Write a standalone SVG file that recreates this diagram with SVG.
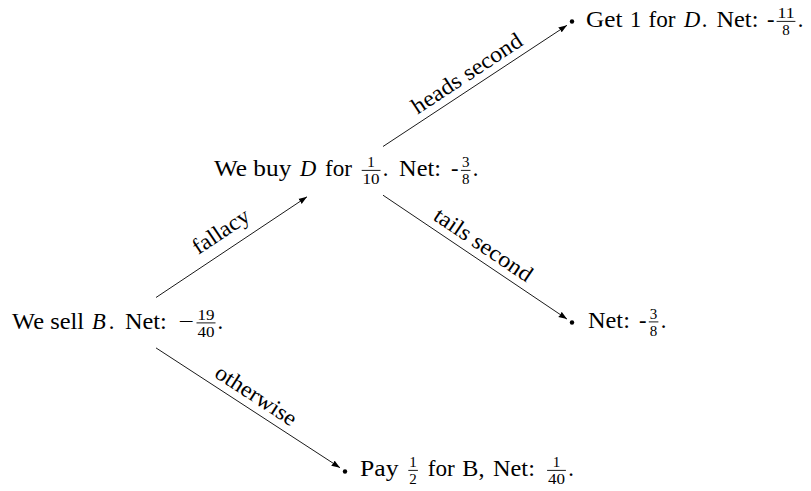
<svg xmlns="http://www.w3.org/2000/svg" width="811" height="491" viewBox="0 0 811 491" font-family="Liberation Serif, Times New Roman, serif">
<style>
  text { font-family: "Liberation Serif", "Times New Roman", serif; fill: #000; }
  .t { font-size: 22.5px; }
  .i { font-style: italic; }
  .f { font-size: 15px; text-anchor: middle; }
  .bar { stroke: #000; stroke-width: 0.9; }
  .edge { stroke: #000; stroke-width: 0.9; fill: none; marker-end: url(#arr); }
  .lbl { font-size: 22.5px; text-anchor: middle; }
  .dot { fill: #000; }
</style>
<defs>
  <marker id="arr" markerUnits="userSpaceOnUse" markerWidth="10" markerHeight="8" refX="8.5" refY="4" orient="auto" viewBox="0 0 10 8">
    <path d="M8.5,4 L0,0.9 Q1.2,4 0,7.1 Z" fill="#000"/>
  </marker>
</defs>

<g id="connectors">
  <line class="edge" x1="156" y1="297.5" x2="307" y2="196.8"/>
  <line class="edge" x1="383" y1="146.5" x2="567" y2="25.3"/>
  <line class="edge" x1="383" y1="195.2" x2="567" y2="319.1"/>
  <line class="edge" x1="156" y1="347.9" x2="340" y2="467.7"/>
  <text class="lbl" transform="translate(224.9,237.3) rotate(-33.7)" textLength="63.8" lengthAdjust="spacingAndGlyphs">fallacy</text>
  <text class="lbl" transform="translate(470.9,79.6) rotate(-33.4)" textLength="127.7" lengthAdjust="spacingAndGlyphs">heads second</text>
  <text class="lbl" transform="translate(479.2,250.9) rotate(34)" textLength="114" lengthAdjust="spacingAndGlyphs">tails second</text>
  <text class="lbl" transform="translate(252.1,401.5) rotate(33.1)" textLength="92.7" lengthAdjust="spacingAndGlyphs">otherwise</text>
</g>

<g id="root">
  <text class="t" x="12.1" y="328.5" textLength="72" lengthAdjust="spacingAndGlyphs">We sell</text>
  <text class="t i" x="92" y="328.5">B</text>
  <text class="t" x="108.7" y="328.5">.</text>
  <text class="t" x="124.9" y="328.5" textLength="41.9" lengthAdjust="spacingAndGlyphs">Net:</text>
  <text class="t" x="178.5" y="328.5" textLength="15.5" lengthAdjust="spacingAndGlyphs">−</text>
  <text class="f" x="206" y="319.5" textLength="17" lengthAdjust="spacingAndGlyphs">19</text>
  <line class="bar" x1="196.5" y1="322.9" x2="215.5" y2="322.9"/>
  <text class="f" x="206" y="336.5" textLength="17" lengthAdjust="spacingAndGlyphs">40</text>
  <text class="t" x="217.6" y="328.5">.</text>
</g>

<g id="buyD">
  <text class="t" x="213.9" y="176" textLength="77.5" lengthAdjust="spacingAndGlyphs">We buy</text>
  <text class="t i" x="300" y="176">D</text>
  <text class="t" x="325" y="176" textLength="27" lengthAdjust="spacingAndGlyphs">for</text>
  <text class="f" x="371.1" y="167">1</text>
  <line class="bar" x1="361.7" y1="170.4" x2="380.5" y2="170.4"/>
  <text class="f" x="371.1" y="184" textLength="17" lengthAdjust="spacingAndGlyphs">10</text>
  <text class="t" x="382.8" y="176">.</text>
  <text class="t" x="399.1" y="176" textLength="41.9" lengthAdjust="spacingAndGlyphs">Net:</text>
  <text class="t" x="451" y="176">-</text>
  <text class="f" x="465.7" y="167">3</text>
  <line class="bar" x1="460.9" y1="170.4" x2="470.5" y2="170.4"/>
  <text class="f" x="465.7" y="184">8</text>
  <text class="t" x="472.8" y="176">.</text>
</g>

<g id="heads">
  <circle class="dot" cx="572" cy="21.5" r="2.2"/>
  <text class="t" x="586" y="27" textLength="36.4" lengthAdjust="spacingAndGlyphs">Get</text>
  <text class="t" x="629.9" y="27">1</text>
  <text class="t" x="648.6" y="27" textLength="27" lengthAdjust="spacingAndGlyphs">for</text>
  <text class="t i" x="684" y="27">D</text>
  <text class="t" x="701.7" y="27">.</text>
  <text class="t" x="716.5" y="27" textLength="41.9" lengthAdjust="spacingAndGlyphs">Net:</text>
  <text class="t" x="766.9" y="27">-</text>
  <text class="f" x="786" y="18" textLength="17" lengthAdjust="spacingAndGlyphs">11</text>
  <line class="bar" x1="776.6" y1="21.4" x2="795.4" y2="21.4"/>
  <text class="f" x="786" y="35">8</text>
  <text class="t" x="797.7" y="27">.</text>
</g>

<g id="tails">
  <circle class="dot" cx="572" cy="322.5" r="2.2"/>
  <text class="t" x="588" y="327.5" textLength="41.9" lengthAdjust="spacingAndGlyphs">Net:</text>
  <text class="t" x="638.9" y="327.5">-</text>
  <text class="f" x="653.6" y="318.5">3</text>
  <line class="bar" x1="648.8" y1="321.9" x2="658.4" y2="321.9"/>
  <text class="f" x="653.6" y="335.5">8</text>
  <text class="t" x="660.8" y="327.5">.</text>
</g>

<g id="pay">
  <circle class="dot" cx="345" cy="471.5" r="2.2"/>
  <text class="t" x="360" y="476" textLength="38.5" lengthAdjust="spacingAndGlyphs">Pay</text>
  <text class="f" x="413.1" y="467">1</text>
  <line class="bar" x1="408.3" y1="470.4" x2="417.9" y2="470.4"/>
  <text class="f" x="413.1" y="484">2</text>
  <text class="t" x="427.8" y="476" textLength="27" lengthAdjust="spacingAndGlyphs">for</text>
  <text class="t" x="462.3" y="476" textLength="22.2" lengthAdjust="spacingAndGlyphs">B,</text>
  <text class="t" x="493" y="476" textLength="41.9" lengthAdjust="spacingAndGlyphs">Net:</text>
  <text class="f" x="556.5" y="467">1</text>
  <line class="bar" x1="547.1" y1="470.4" x2="565.9" y2="470.4"/>
  <text class="f" x="556.5" y="484" textLength="17" lengthAdjust="spacingAndGlyphs">40</text>
  <text class="t" x="568.2" y="476">.</text>
</g>
</svg>
